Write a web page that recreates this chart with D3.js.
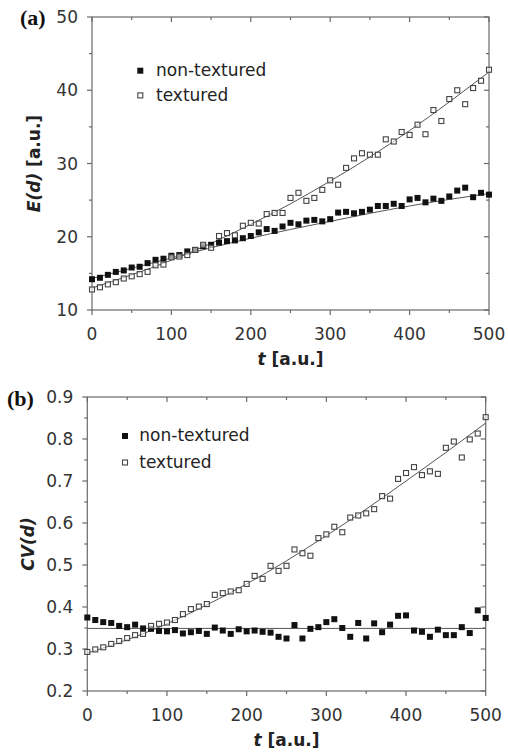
<!DOCTYPE html>
<html><head><meta charset="utf-8">
<script src="https://cdn.jsdelivr.net/npm/d3@7"></script>
<style>body{margin:0;background:#fff}svg{display:block}</style>
</head><body>
<svg id="c" width="508" height="756"></svg>
<script>
const tVals = [0,10,20,30,40,50,60,70,80,90,100,110,120,130,140,150,160,170,180,190,200,210,220,230,240,250,260,270,280,290,300,310,320,330,340,350,360,370,380,390,400,410,420,430,440,450,460,470,480,490,500];
const nonTexA = [14.2,14.4,14.8,15.2,15.4,15.8,15.9,16.4,16.85,17.0,17.4,17.5,18.0,18.2,18.7,18.9,19.2,19.4,19.5,19.8,20.1,20.6,21.05,20.8,21.4,21.9,21.7,22.2,22.3,22.1,22.4,23.3,23.4,23.2,23.4,23.7,24.2,24.2,24.5,24.2,25.1,25.3,24.7,25.2,24.9,25.5,26.3,26.7,25.4,26.0,25.75];
const texA = [12.8,13.1,13.5,13.8,14.3,14.6,14.9,15.2,16.1,16.2,17.2,17.3,17.5,18.2,18.9,18.5,20.1,20.5,20.2,21.5,21.9,21.8,23.1,23.25,23.25,25.3,26.0,24.9,25.3,26.4,27.7,27.1,29.4,30.7,31.4,31.2,31.2,33.3,33.0,34.3,33.9,35.3,34.0,37.3,35.8,38.8,40.0,38.1,40.3,41.3,42.8];
const nonTexB = [0.375,0.369,0.364,0.362,0.355,0.352,0.358,0.349,0.348,0.343,0.342,0.345,0.337,0.340,0.343,0.336,0.351,0.344,0.336,0.347,0.342,0.344,0.341,0.339,0.329,0.325,0.357,0.325,0.348,0.352,0.364,0.371,0.350,0.329,0.362,0.325,0.361,0.340,0.358,0.379,0.380,0.344,0.341,0.329,0.346,0.333,0.333,0.352,0.338,0.392,0.374];
const texB = [0.293,0.299,0.304,0.312,0.319,0.326,0.333,0.336,0.355,0.360,0.363,0.369,0.383,0.395,0.401,0.407,0.429,0.433,0.437,0.440,0.455,0.474,0.467,0.498,0.486,0.498,0.537,0.528,0.522,0.564,0.573,0.591,0.578,0.613,0.618,0.623,0.633,0.664,0.658,0.705,0.719,0.733,0.714,0.723,0.717,0.779,0.794,0.756,0.799,0.813,0.852];
const fitT = [0,50,100,150,200,250,300,350,400,450,500];
const fitTexA = [13.0,14.8,16.8,19.1,21.7,24.5,27.6,30.9,34.5,38.4,42.5];
const fitNonA = [14.3,15.7,17.1,18.5,19.8,21.0,22.1,23.2,24.2,25.1,25.9];
const fitTexB = [0.290,0.322,0.360,0.405,0.455,0.510,0.570,0.633,0.700,0.768,0.838];
const fitNonBT = [0,500];
const fitNonB = [0.349,0.349];
const xTicks = [0,100,200,300,400,500];
const yTicksA = [10,20,30,40,50];
const yTicksB = [0.2,0.3,0.4,0.5,0.6,0.7,0.8,0.9];
const legendLabels = ["non-textured","textured"];

const svg = d3.select("#c");
const FONT = "DejaVu Sans";
const AX = "#6a6a6a";

function panel(opt){
  const g = svg.append("g");
  const x = d3.scaleLinear().domain([0,500]).range([opt.x0,opt.x1]);
  const y = d3.scaleLinear().domain(opt.ydom).range([opt.y1,opt.y0]);
  const minorX = xTicks.slice(1).map(v=>v-50);
  g.append("rect").attr("x",opt.x0).attr("y",opt.y0).attr("width",opt.x1-opt.x0).attr("height",opt.y1-opt.y0)
    .attr("fill","none").attr("stroke",AX).attr("stroke-width",1.2);
  xTicks.forEach(v=>{
    g.append("line").attr("x1",x(v)).attr("x2",x(v)).attr("y1",opt.y1).attr("y2",opt.y1+5).attr("stroke",AX).attr("stroke-width",1.2);
    g.append("line").attr("x1",x(v)).attr("x2",x(v)).attr("y1",opt.y0).attr("y2",opt.y0+5).attr("stroke",AX).attr("stroke-width",1.2);
    g.append("text").attr("x",x(v)).attr("y",opt.y1+30).attr("text-anchor","middle")
      .attr("font-family",FONT).attr("font-size",17).attr("fill","#333").text(v);
  });
  minorX.forEach(v=>{
    g.append("line").attr("x1",x(v)).attr("x2",x(v)).attr("y1",opt.y1).attr("y2",opt.y1+3).attr("stroke",AX).attr("stroke-width",1.2);
    g.append("line").attr("x1",x(v)).attr("x2",x(v)).attr("y1",opt.y0).attr("y2",opt.y0+3).attr("stroke",AX).attr("stroke-width",1.2);
  });
  const yt = opt.yticks;
  yt.forEach((v,i)=>{
    g.append("line").attr("x1",opt.x0-5).attr("x2",opt.x0).attr("y1",y(v)).attr("y2",y(v)).attr("stroke",AX).attr("stroke-width",1.2);
    g.append("line").attr("x1",opt.x1-5).attr("x2",opt.x1).attr("y1",y(v)).attr("y2",y(v)).attr("stroke",AX).attr("stroke-width",1.2);
    g.append("text").attr("x",opt.x0-14).attr("y",y(v)).attr("dy","0.36em").attr("text-anchor","end")
      .attr("font-family",FONT).attr("font-size",17).attr("fill","#333").text(opt.fmt(v));
    if(i<yt.length-1){
      const m=(v+yt[i+1])/2;
      g.append("line").attr("x1",opt.x0-3).attr("x2",opt.x0).attr("y1",y(m)).attr("y2",y(m)).attr("stroke",AX).attr("stroke-width",1.2);
      g.append("line").attr("x1",opt.x1-3).attr("x2",opt.x1).attr("y1",y(m)).attr("y2",y(m)).attr("stroke",AX).attr("stroke-width",1.2);
    }
  });
  const line = d3.line().x(d=>x(d[0])).y(d=>y(d[1])).curve(d3.curveNatural);
  opt.fits.forEach(f=>{
    g.append("path").attr("d",line(f[0].map((t,i)=>[t,f[1][i]]))).attr("fill","none").attr("stroke","#555").attr("stroke-width",1);
  });
  const s=6;
  g.selectAll(null).data(tVals.map((t,i)=>[t,opt.non[i]])).join("rect")
    .attr("x",d=>x(d[0])-s/2).attr("y",d=>y(d[1])-s/2).attr("width",s).attr("height",s).attr("fill","#111");
  g.selectAll(null).data(tVals.map((t,i)=>[t,opt.tex[i]])).join("rect")
    .attr("x",d=>x(d[0])-s/2+0.5).attr("y",d=>y(d[1])-s/2+0.5).attr("width",s-1).attr("height",s-1).attr("fill","#fff").attr("fill-opacity",0.6).attr("stroke","#444").attr("stroke-width",1.1);
  legendLabels.forEach((lab,i)=>{
    const cy = opt.legY + i*opt.legDy;
    if(i===0) g.append("rect").attr("x",opt.legX-3).attr("y",cy-3).attr("width",6).attr("height",6).attr("fill","#111");
    else g.append("rect").attr("x",opt.legX-2.5).attr("y",cy-2.5).attr("width",5).attr("height",5).attr("fill","#fff").attr("stroke","#444").attr("stroke-width",1.1);
    g.append("text").attr("x",opt.legTx).attr("y",cy+5.2).attr("font-family",FONT).attr("font-size",17).attr("fill","#222").text(lab);
  });
  const xt = g.append("text").attr("x",(opt.x0+opt.x1)/2).attr("y",opt.y1+55).attr("text-anchor","middle")
    .attr("font-family",FONT).attr("font-size",17).attr("font-weight","bold").attr("fill","#222");
  xt.append("tspan").attr("font-style","italic").text("t");
  xt.append("tspan").text(" [a.u.]");
  const ytt = g.append("text").attr("transform",`translate(${opt.ytx},${(opt.y0+opt.y1)/2}) rotate(-90)`).attr("text-anchor","middle")
    .attr("font-family",FONT).attr("font-size",17).attr("font-weight","bold").attr("fill","#222");
  opt.ytitle.forEach(p=>ytt.append("tspan").attr("font-style",p[1]?"italic":"normal").text(p[0]));
  g.append("text").attr("x",opt.letX).attr("y",opt.letY).attr("font-family","Liberation Serif").attr("font-size",22).attr("font-weight","bold").attr("fill","#111").text(opt.letter);
  return g;
}

panel({x0:92,x1:489,y0:17,y1:310,ydom:[10,50],yticks:yTicksA,fmt:d=>d,
  non:nonTexA,tex:texA,fits:[[fitT,fitNonA],[fitT,fitTexA]],
  legX:140.3,legTx:156,legY:70.7,legDy:24.7,
  ytx:40,ytitle:[["E(d)",true],[" [a.u.]",false]],letter:"(a)",letX:20,letY:25});

panel({x0:87.3,x1:485.7,y0:397,y1:691,ydom:[0.2,0.9],yticks:yTicksB,fmt:d3.format(".1f"),
  non:nonTexB,tex:texB,fits:[[fitNonBT,fitNonB],[fitT,fitTexB]],
  legX:125,legTx:139.3,legY:436,legDy:26.5,
  ytx:34,ytitle:[["CV(d)",true]],letter:"(b)",letX:7,letY:406});
</script>
</body></html>
